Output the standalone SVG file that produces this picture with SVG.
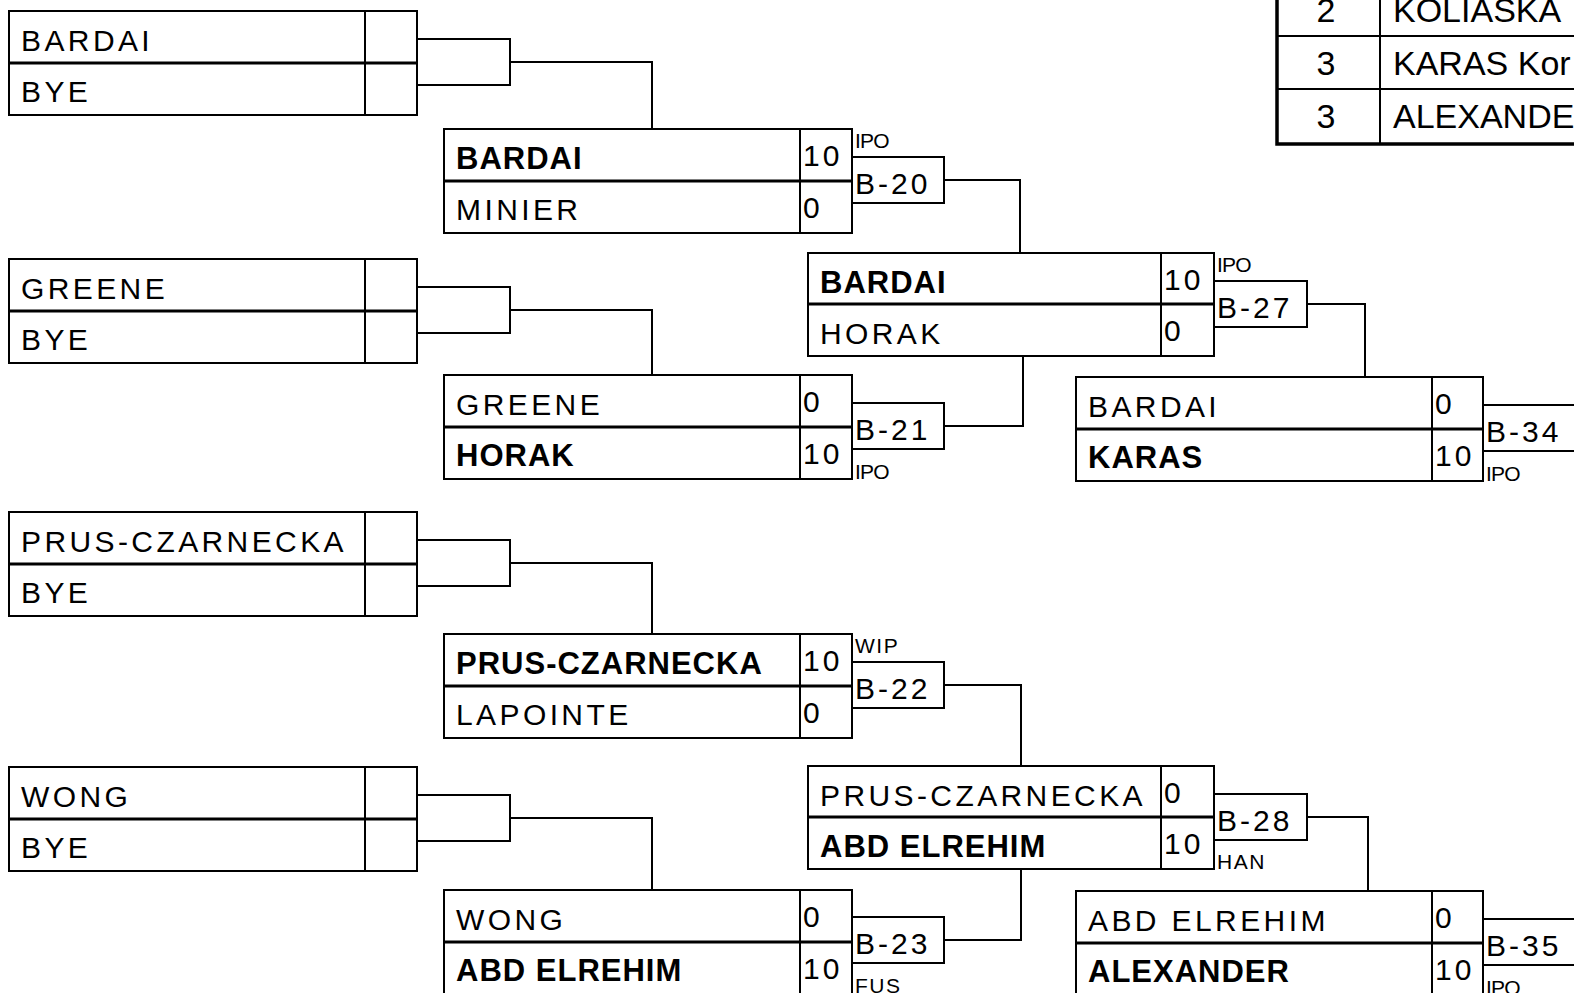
<svg xmlns="http://www.w3.org/2000/svg" width="1574" height="993" viewBox="0 0 1574 993">
<style>
.bx{fill:#fff;stroke:#000;stroke-width:2}
.ln{fill:none;stroke:#000;stroke-width:2}
.mid{stroke:#000;stroke-width:3}
.cn{fill:none;stroke:#000;stroke-width:2}
.n{font-family:"Liberation Sans",Arial,sans-serif;font-size:30px;letter-spacing:3.4px;fill:#000}
.b{font-family:"Liberation Sans",Arial,sans-serif;font-size:31px;font-weight:bold;letter-spacing:1px;fill:#000}
.s{font-family:"Liberation Sans",Arial,sans-serif;font-size:30px;letter-spacing:3px;fill:#000}
.t{font-family:"Liberation Sans",Arial,sans-serif;font-size:21px;letter-spacing:-0.8px;fill:#000}
.tw{font-family:"Liberation Sans",Arial,sans-serif;font-size:21px;letter-spacing:1.5px;fill:#000}
.tb{font-family:"Liberation Sans",Arial,sans-serif;font-size:34px;fill:#000}
</style>
<rect width="1574" height="993" fill="#fff"/>

<g id="connectors">
<path class="cn" d="M417,39 H510 V85 H417 M510,62 H652 V129"/>
<path class="cn" d="M417,287 H510 V333 H417 M510,310 H652 V375"/>
<path class="cn" d="M417,540 H510 V586 H417 M510,563 H652 V634"/>
<path class="cn" d="M417,795 H510 V841 H417 M510,818 H652 V890"/>
<path class="cn" d="M944,180 H1020 V253"/>
<path class="cn" d="M944,426 H1023 V356"/>
<path class="cn" d="M944,685 H1021 V766"/>
<path class="cn" d="M944,940 H1021 V869"/>
<path class="cn" d="M1307,304 H1365 V377"/>
<path class="cn" d="M1307,817 H1368 V891"/>
</g>

<g id="r1a">
<rect class="bx" x="9" y="11" width="408" height="104"/>
<line class="mid" x1="9" y1="63" x2="417" y2="63"/>
<line class="ln" x1="365" y1="11" x2="365" y2="115"/>
<text class="n" x="21" y="51">BARDAI</text>
<text class="n" x="21" y="102">BYE</text>
</g>
<g id="r1b">
<rect class="bx" x="9" y="259" width="408" height="104"/>
<line class="mid" x1="9" y1="311" x2="417" y2="311"/>
<line class="ln" x1="365" y1="259" x2="365" y2="363"/>
<text class="n" x="21" y="299">GREENE</text>
<text class="n" x="21" y="350">BYE</text>
</g>
<g id="r1c">
<rect class="bx" x="9" y="512" width="408" height="104"/>
<line class="mid" x1="9" y1="564" x2="417" y2="564"/>
<line class="ln" x1="365" y1="512" x2="365" y2="616"/>
<text class="n" x="21" y="552">PRUS-CZARNECKA</text>
<text class="n" x="21" y="603">BYE</text>
</g>
<g id="r1d">
<rect class="bx" x="9" y="767" width="408" height="104"/>
<line class="mid" x1="9" y1="819" x2="417" y2="819"/>
<line class="ln" x1="365" y1="767" x2="365" y2="871"/>
<text class="n" x="21" y="807">WONG</text>
<text class="n" x="21" y="858">BYE</text>
</g>

<g id="r2a">
<rect class="bx" x="444" y="129" width="408" height="104"/>
<line class="mid" x1="444" y1="181" x2="852" y2="181"/>
<line class="ln" x1="800" y1="129" x2="800" y2="233"/>
<text class="b" x="456" y="169">BARDAI</text>
<text class="n" x="456" y="220">MINIER</text>
<text class="s" x="803" y="166">10</text>
<text class="s" x="803" y="218">0</text>
<rect class="bx" x="852" y="157" width="92" height="46"/>
<text class="s" x="855" y="194">B-20</text>
<text class="t" x="855" y="148">IPO</text>
</g>
<g id="r2b">
<rect class="bx" x="444" y="375" width="408" height="104"/>
<line class="mid" x1="444" y1="427" x2="852" y2="427"/>
<line class="ln" x1="800" y1="375" x2="800" y2="479"/>
<text class="n" x="456" y="415">GREENE</text>
<text class="b" x="456" y="466">HORAK</text>
<text class="s" x="803" y="412">0</text>
<text class="s" x="803" y="464">10</text>
<rect class="bx" x="852" y="403" width="92" height="46"/>
<text class="s" x="855" y="440">B-21</text>
<text class="t" x="855" y="479">IPO</text>
</g>
<g id="r2c">
<rect class="bx" x="444" y="634" width="408" height="104"/>
<line class="mid" x1="444" y1="686" x2="852" y2="686"/>
<line class="ln" x1="800" y1="634" x2="800" y2="738"/>
<text class="b" x="456" y="674">PRUS-CZARNECKA</text>
<text class="n" x="456" y="725">LAPOINTE</text>
<text class="s" x="803" y="671">10</text>
<text class="s" x="803" y="723">0</text>
<rect class="bx" x="852" y="662" width="92" height="46"/>
<text class="s" x="855" y="699">B-22</text>
<text class="tw" x="855" y="653">WIP</text>
</g>
<g id="r2d">
<rect class="bx" x="444" y="890" width="408" height="104"/>
<line class="mid" x1="444" y1="942" x2="852" y2="942"/>
<line class="ln" x1="800" y1="890" x2="800" y2="994"/>
<text class="n" x="456" y="930">WONG</text>
<text class="b" x="456" y="981">ABD ELREHIM</text>
<text class="s" x="803" y="927">0</text>
<text class="s" x="803" y="979">10</text>
<rect class="bx" x="852" y="917" width="92" height="46"/>
<text class="s" x="855" y="954">B-23</text>
<text class="tw" x="855" y="993">FUS</text>
</g>

<g id="r3a">
<rect class="bx" x="808" y="253" width="406" height="103"/>
<line class="mid" x1="808" y1="304" x2="1214" y2="304"/>
<line class="ln" x1="1161" y1="253" x2="1161" y2="356"/>
<text class="b" x="820" y="293">BARDAI</text>
<text class="n" x="820" y="344">HORAK</text>
<text class="s" x="1164" y="290">10</text>
<text class="s" x="1164" y="341">0</text>
<rect class="bx" x="1214" y="281" width="93" height="46"/>
<text class="s" x="1217" y="318">B-27</text>
<text class="t" x="1217" y="272">IPO</text>
</g>
<g id="r3b">
<rect class="bx" x="808" y="766" width="406" height="103"/>
<line class="mid" x1="808" y1="817" x2="1214" y2="817"/>
<line class="ln" x1="1161" y1="766" x2="1161" y2="869"/>
<text class="n" x="820" y="806">PRUS-CZARNECKA</text>
<text class="b" x="820" y="857">ABD ELREHIM</text>
<text class="s" x="1164" y="803">0</text>
<text class="s" x="1164" y="854">10</text>
<rect class="bx" x="1214" y="794" width="93" height="46"/>
<text class="s" x="1217" y="831">B-28</text>
<text class="tw" x="1217" y="869">HAN</text>
</g>

<g id="r4a">
<rect class="bx" x="1076" y="377" width="407" height="104"/>
<line class="mid" x1="1076" y1="429" x2="1483" y2="429"/>
<line class="ln" x1="1432" y1="377" x2="1432" y2="481"/>
<text class="n" x="1088" y="417">BARDAI</text>
<text class="b" x="1088" y="468">KARAS</text>
<text class="s" x="1435" y="414">0</text>
<text class="s" x="1435" y="466">10</text>
<rect class="bx" x="1483" y="405" width="120" height="46"/>
<text class="s" x="1486" y="442">B-34</text>
<text class="t" x="1486" y="481">IPO</text>
</g>
<g id="r4b">
<rect class="bx" x="1076" y="891" width="407" height="104"/>
<line class="mid" x1="1076" y1="943" x2="1483" y2="943"/>
<line class="ln" x1="1432" y1="891" x2="1432" y2="995"/>
<text class="n" x="1088" y="931">ABD ELREHIM</text>
<text class="b" x="1088" y="982">ALEXANDER</text>
<text class="s" x="1435" y="928">0</text>
<text class="s" x="1435" y="980">10</text>
<rect class="bx" x="1483" y="919" width="120" height="46"/>
<text class="s" x="1486" y="956">B-35</text>
<text class="t" x="1486" y="995">IPO</text>
</g>

<g id="results">
<rect x="1277" y="-20" width="320" height="164" fill="#fff" stroke="#000" stroke-width="3.5"/>
<line class="ln" x1="1380" y1="-20" x2="1380" y2="144"/>
<line class="ln" x1="1277" y1="36" x2="1574" y2="36"/>
<line class="ln" x1="1277" y1="89" x2="1574" y2="89"/>
<text class="tb" x="1326" y="22" text-anchor="middle">2</text>
<text class="tb" x="1393" y="22">KOLIASKA</text>
<text class="tb" x="1326" y="75" text-anchor="middle">3</text>
<text class="tb" x="1393" y="75">KARAS Kor</text>
<text class="tb" x="1326" y="128" text-anchor="middle">3</text>
<text class="tb" x="1393" y="128">ALEXANDER</text>
</g>
</svg>
